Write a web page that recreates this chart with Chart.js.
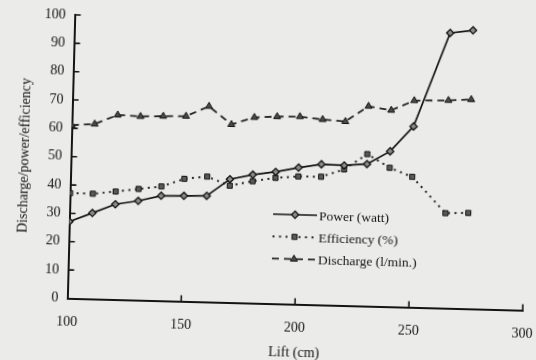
<!DOCTYPE html>
<html>
<head>
<meta charset="utf-8">
<script src="https://cdn.jsdelivr.net/npm/chart.js@4/dist/chart.umd.min.js"></script>
<style>
  html, body { margin: 0; padding: 0; width: 536px; height: 360px; overflow: hidden; background: #ebebe9; }
  #wrap { position: absolute; left: 0; top: 0; width: 560px; height: 380px;
          transform-origin: 268px 180px; transform: rotate(1.5deg); filter: blur(0.25px); }
  canvas { display: block; }
</style>
</head>
<body>
<div id="wrap"><canvas id="c" width="560" height="380"></canvas></div>
<script>
// Pump test: lift (cm) against power, efficiency and discharge
const lift       = [100, 110, 120, 130, 140, 150, 160, 170, 180, 190, 200, 210, 220, 230, 240, 250, 265, 275];
const power      = [27.1, 30.3, 33.6, 35.0, 37.0, 37.2, 37.4, 43.5, 45.3, 46.5, 48.2, 49.6, 49.4, 50.1, 54.8, 63.8, 97.1, 98.2];
const efficiency = [37.1, 37.1, 38.1, 39.2, 40.3, 43.2, 44.2, 41.2, 43.0, 44.4, 45.1, 45.2, 48.0, 53.6, 49.0, 46.0, 33.5, 33.8];
const discharge  = [61.1, 61.7, 65.1, 64.8, 65.1, 65.3, 69.0, 62.8, 65.5, 66.0, 66.2, 65.4, 64.9, 70.5, 69.3, 72.9, 73.3, 73.8];

const seriesNames = ['Power (watt)', 'Efficiency (%)', 'Discharge (l/min.)'];
const liftTicks   = [100, 150, 200, 250, 300];
const valueTicks  = [0, 10, 20, 30, 40, 50, 60, 70, 80, 90, 100];
const xTitle = 'Lift (cm)';
const yTitle = 'Discharge/power/efficiency';

const ink = '#141414';
const serif = "'Liberation Serif', 'DejaVu Serif', serif";

const pairs = ys => lift.map((x, i) => ({ x, y: ys[i] }));

// Inward tick marks on both axes plus a line-and-marker legend
const decor = {
  id: 'decor',
  afterDatasetsDraw(chart) {
    const { ctx, chartArea: a, scales: { x, y } } = chart;
    ctx.save();
    ctx.strokeStyle = ink;
    ctx.lineWidth = 1.6;
    ctx.setLineDash([]);
    ctx.beginPath();
    x.ticks.forEach(t => {
      if (t.value > x.min) {
        const px = x.getPixelForValue(t.value);
        ctx.moveTo(px, a.bottom);
        ctx.lineTo(px, a.bottom - 6);
      }
    });
    y.ticks.forEach(t => {
      if (t.value > y.min) {
        const py = y.getPixelForValue(t.value);
        ctx.moveTo(a.left, py);
        ctx.lineTo(a.left + 6, py);
      }
    });
    ctx.stroke();

    const lx = a.left + 203.5, ly = a.top + 194, gap = 22.2, len = 44;
    chart.data.datasets.forEach((ds, i) => {
      const yy = ly + i * gap;
      ctx.strokeStyle = ds.borderColor;
      ctx.lineWidth = ds.borderWidth;
      ctx.setLineDash(ds.borderDash || []);
      ctx.beginPath();
      ctx.moveTo(lx, yy);
      ctx.lineTo(lx + len, yy);
      ctx.stroke();
      ctx.setLineDash([]);
      ctx.fillStyle = ds.pointBackgroundColor;
      ctx.strokeStyle = ds.pointBorderColor;
      ctx.lineWidth = ds.pointBorderWidth;
      Chart.helpers.drawPoint(ctx, { pointStyle: ds.pointStyle, radius: ds.pointRadius, rotation: 0, borderWidth: ds.pointBorderWidth }, lx + len / 2, yy);
      ctx.fillStyle = ink;
      ctx.font = "13.5px " + serif;
      ctx.textBaseline = 'middle';
      ctx.textAlign = 'left';
      ctx.fillText(ds.label, lx + len + 2, yy + 1);
    });
    ctx.restore();
  }
};

new Chart(document.getElementById('c'), {
  type: 'line',
  data: {
    datasets: [
      { label: seriesNames[0], data: pairs(power), borderColor: ink, borderWidth: 1.7,
        pointStyle: 'rectRot', pointRadius: 3.6, pointBackgroundColor: '#8a8a8a',
        pointBorderColor: ink, pointBorderWidth: 1.3 },
      { label: seriesNames[1], data: pairs(efficiency), borderColor: '#262626', borderWidth: 2,
        borderDash: [2, 4.5], pointStyle: 'rect', pointRadius: 3.6, pointBackgroundColor: '#5a5a5a',
        pointBorderColor: ink, pointBorderWidth: 1 },
      { label: seriesNames[2], data: pairs(discharge), borderColor: '#262626', borderWidth: 1.8,
        borderDash: [7, 5], pointStyle: 'triangle', pointRadius: 4, pointBackgroundColor: '#4a4a4a',
        pointBorderColor: ink, pointBorderWidth: 1 }
    ]
  },
  options: {
    responsive: false,
    animation: false,
    devicePixelRatio: 1,
    layout: { padding: { left: 0, top: 20, right: 34, bottom: 0 } },
    plugins: { legend: { display: false }, tooltip: { enabled: false } },
    elements: { line: { tension: 0 } },
    scales: {
      x: {
        type: 'linear', min: 100, max: 300,
        afterBuildTicks: s => { s.ticks = liftTicks.map(v => ({ value: v })); },
        afterFit: s => { s.height = 76.5; },
        grid: { display: true, drawOnChartArea: false, drawTicks: false },
        border: { display: true, color: ink, width: 2 },
        ticks: { color: ink, font: { family: serif, size: 14 }, padding: 15.5, maxRotation: 0 },
        title: { display: true, text: xTitle, color: ink, font: { family: serif, size: 14 },
                 padding: { top: 0, bottom: 19.5 } }
      },
      y: {
        type: 'linear', min: 0, max: 100,
        afterBuildTicks: s => { s.ticks = valueTicks.map(v => ({ value: v })); },
        afterFit: s => { s.width = 70.5; },
        grid: { display: true, drawOnChartArea: false, drawTicks: false },
        border: { display: true, color: ink, width: 2 },
        ticks: { color: ink, font: { family: serif, size: 14 }, padding: 9 },
        title: { display: true, text: yTitle, color: ink, font: { family: serif, size: 14 },
                 padding: { top: 15.6, bottom: 0 } }
      }
    }
  },
  plugins: [decor]
});
</script>
</body>
</html>
